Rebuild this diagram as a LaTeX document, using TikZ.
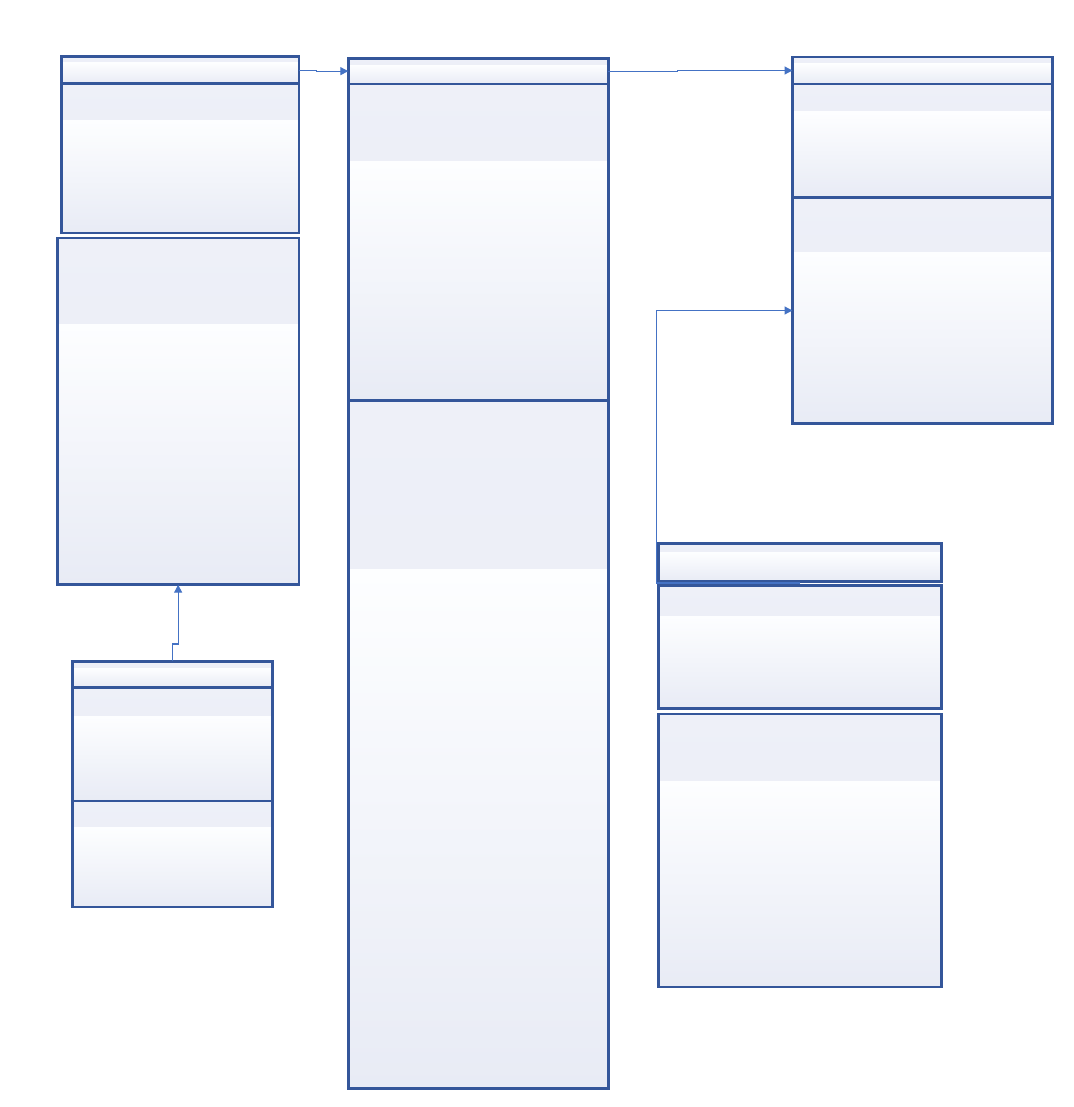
\documentclass[tikz,border=0pt]{standalone}
\usetikzlibrary{arrows.meta}
\definecolor{boxline}{HTML}{34569A}
\definecolor{connline}{HTML}{4472C4}
\definecolor{bandtop}{HTML}{EEF0F8}
\definecolor{bandbot}{HTML}{E8EBF5}
\definecolor{lowtop}{HTML}{FDFEFF}
\tikzset{
  comp/.style={draw=boxline, line width=2.7pt, inner sep=0pt, outer sep=0pt,
    anchor=north west,
    path picture={
      \shade[top color=bandtop, bottom color=bandbot]
        (path picture bounding box.north west) rectangle
        ([yshift=-#1 pt]path picture bounding box.north east);
      \shade[top color=lowtop, bottom color=bandbot]
        ([yshift=-#1 pt]path picture bounding box.north west) rectangle
        (path picture bounding box.south east);
    }},
  conn/.style={draw=connline, line width=1.2pt, -{Triangle[length=8pt,width=8pt]}}
}
\begin{document}
\begin{tikzpicture}[x=1pt,y=-1pt]
\useasboundingbox (0,0) rectangle (1073,1107);
% left top class
\node[comp=6, minimum width=237.5pt, minimum height=27.3pt] (a1) at (61.5,56.5) {};
\node[comp=37, minimum width=237.5pt, minimum height=149.2pt] (a2) at (61.5,83.8) {};
% left tall
\node[comp=86, minimum width=241.7pt, minimum height=346.7pt] (b) at (57.3,238) {};
% left bottom class
\node[comp=7, minimum width=200pt, minimum height=26pt] (c1) at (72.3,661.3) {};
\node[comp=29, minimum width=200pt, minimum height=113.7pt] (c2) at (72.3,687.3) {};
\node[comp=26, minimum width=200pt, minimum height=106pt] (c3) at (72.3,801) {};
% center class
\node[comp=7, minimum width=260pt, minimum height=25.7pt] (d1) at (348.3,58.3) {};
\node[comp=78, minimum width=260pt, minimum height=316.7pt] (d2) at (348.3,84) {};
\node[comp=169, minimum width=260pt, minimum height=687.6pt] (d3) at (348.3,400.7) {};
% right top class
\node[comp=7, minimum width=259.8pt, minimum height=27pt] (e1) at (792.5,57) {};
\node[comp=28, minimum width=259.8pt, minimum height=113.3pt] (e2) at (792.5,84) {};
\node[comp=55, minimum width=259.8pt, minimum height=226.4pt] (e3) at (792.5,197.3) {};
% right bottom class
\node[comp=9, minimum width=283pt, minimum height=38pt] (f) at (658.7,543.3) {};
\node[comp=31, minimum width=283pt, minimum height=123pt] (g) at (658.7,585.3) {};
\node[comp=67, minimum width=283pt, minimum height=273pt] (h) at (658.7,714) {};
% connectors
\draw[conn] (a1.east) -- ++(17.3,0) |- (d1.west);
\draw[conn] (d1.east) -- ++(69,0) |- (e1.west);
\coordinate (s) at (800,583);
\coordinate (k) at (656.3,583);
\draw[conn] (s) -- (k) |- (e3.west);
\draw[conn] (c1.north) -- ++(0,-17.3) -| (b.south);
\end{tikzpicture}
\end{document}
